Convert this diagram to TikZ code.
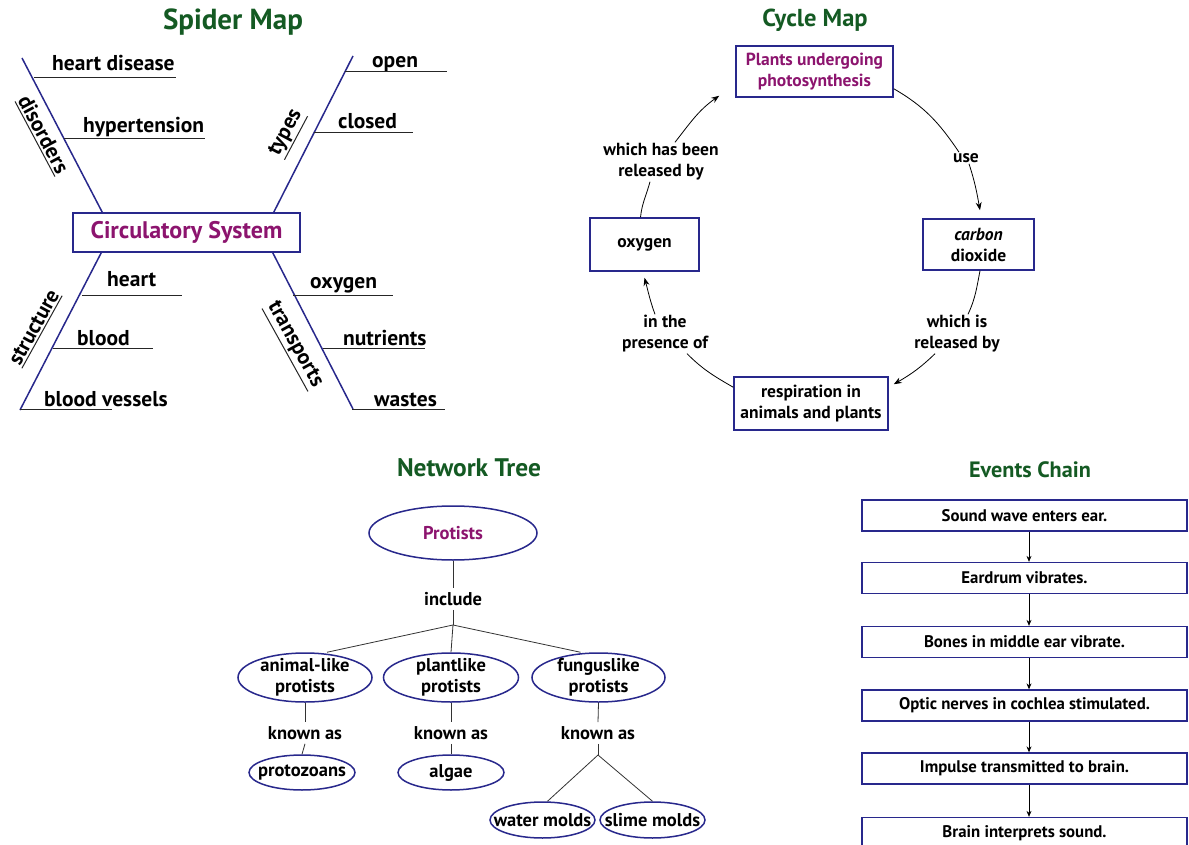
\documentclass[tikz,border=0pt]{standalone}
\usepackage{fontspec}
\setmainfont{PT Sans}
\usetikzlibrary{shapes.geometric,arrows.meta}
\definecolor{navy}{RGB}{40,40,140}
\definecolor{tgreen}{RGB}{20,90,35}
\definecolor{purp}{RGB}{140,20,110}
\begin{document}
\begin{tikzpicture}[x=1pt,y=-1pt,
 ttl/.style={font=\fontsize{25}{29}\selectfont\bfseries,text=tgreen},
 sp/.style={font=\fontsize{21.5}{25}\selectfont\bfseries,inner sep=0pt},
 rl/.style={font=\fontsize{21.5}{25}\selectfont\bfseries,inner xsep=0pt,inner ysep=2pt},
 bbox/.style={draw=navy,line width=1.5pt},
 spoke/.style={navy,line width=1.5pt},
 uline/.style={black!85,line width=1pt},
 cyc/.style={font=\fontsize{17.5}{21}\selectfont\bfseries,align=center,inner sep=1pt},
 cbox/.style={bbox,align=center,inner sep=0pt,font=\fontsize{17.5}{21}\selectfont\bfseries},
 conn/.style={black,line width=0.8pt},
 arr/.style={conn,-{Stealth[length=8pt,width=6pt]}},
 ell/.style={ellipse,draw=navy,line width=1.5pt,inner sep=0pt},
 lbl/.style={font=\fontsize{18.5}{21.5}\selectfont\bfseries,align=center,inner sep=0pt},
 tt/.style={font=\fontsize{18.5}{21.5}\selectfont\bfseries,inner sep=4pt},
 tline/.style={black!80,line width=0.8pt},
 evbox/.style={bbox,line width=1.3pt,minimum width=325pt,minimum height=31pt,inner sep=0pt,font=\fontsize{16.8}{19}\selectfont\bfseries},
 earr/.style={black,line width=0.9pt,-{Stealth[length=6pt,width=5pt]}}]
\useasboundingbox (0,0) rectangle (1189,845);
\fill[white] (0,0) rectangle (1189,845);
% ---------- Spider map ----------
\node[ttl,font=\fontsize{29}{33}\selectfont\bfseries] (t1) at (233,22) {Spider Map};
\node[bbox,minimum width=227pt,minimum height=39pt,inner sep=0pt,font=\fontsize{24}{28}\selectfont\bfseries,text=purp] (circ) at (186.5,232.5) {Circulatory System};
\coordinate (ul) at (22,58);
\coordinate (ur) at (353,56);
\coordinate (ll) at (20,410);
\coordinate (lr) at (353,409);
\draw[spoke] (ul) -- ([xshift=30pt]circ.north west);
\draw[spoke] (ur) -- ([xshift=-27pt]circ.north east);
\draw[spoke] (ll) -- ([xshift=29pt]circ.south west);
\draw[spoke] (lr) -- ([xshift=-28pt]circ.south east);
\node[sp,anchor=base west] (hd) at (52,71) {heart disease};
\draw[uline] (34,78) -- (176,78);
\node[sp,anchor=base west] (hy) at (83,133) {hypertension};
\draw[uline] (64,139) -- (205,139);
\node[sp,anchor=base west] (op) at (372,68) {open};
\draw[uline] (345,72) -- (447,72);
\node[sp,anchor=base west] (cl) at (338,129) {closed};
\draw[uline] (314,133) -- (413,133);
\node[sp,anchor=base west] (he) at (107,287) {heart};
\draw[uline] (82,295) -- (182,295);
\node[sp,anchor=base west] (bl) at (77,345) {blood};
\draw[uline] (53,348) -- (153,348);
\node[sp,anchor=base west] (bv) at (44,406) {blood vessels};
\draw[uline] (20,409) -- (112,409);
\node[sp,anchor=base west] (ox) at (310,288) {oxygen};
\draw[uline] (293,295) -- (393,295);
\node[sp,anchor=base west] (nu) at (343,345) {nutrients};
\draw[uline] (323,348) -- (425,348);
\node[sp,anchor=base west] (wa) at (374,406) {wastes};
\draw[uline] (352,409) -- (445,409);
\node[rl,rotate=-62,anchor=south] (dis) at (35,139) {disorders};
\draw[uline] (dis.south west) -- (dis.south east);
\node[rl,rotate=62,anchor=south] (ty) at (296,138) {types};
\draw[uline] (ty.south west) -- (ty.south east);
\node[rl,rotate=61,anchor=south] (st) at (42,332) {structure};
\draw[uline] (st.south west) -- (st.south east);
\node[rl,rotate=-61,anchor=south] (tr) at (285,350) {transports};
\draw[uline] (tr.south west) -- (tr.south east);
% ---------- Cycle map ----------
\node[ttl,font=\fontsize{24.5}{28}\selectfont\bfseries] (t2) at (815,20) {Cycle Map};
\node[cbox,text=purp,minimum width=157pt,minimum height=51pt] (top) at (814.5,71.5) {Plants undergoing\\photosynthesis};
\node[cbox,minimum width=111pt,minimum height=51pt] (co2) at (978.5,244.5) {\textit{carbon}\\dioxide};
\node[cbox,minimum width=109pt,minimum height=53pt] (oxy) at (644.5,244.5) {oxygen};
\node[cbox,minimum width=154pt,minimum height=53pt] (resp) at (811,403.5) {respiration in\\animals and plants};
\node[cyc] (use) at (966,158) {use};
\node[cyc] (wir) at (957,334) {which is\\released by};
\node[cyc] (ip) at (665,334) {in the\\presence of};
\node[cyc] (whb) at (661,162) {which has been\\released by};
\draw[conn] ([yshift=9pt]top.south east) to[out=-30,in=124] ([xshift=-7pt]use.north);
\draw[arr] ([xshift=3pt]use.south) to[out=-72,in=100] ([xshift=1.5pt,yshift=8pt]co2.north);
\draw[conn] ([xshift=1.5pt]co2.south) to[out=-101,in=65] ([xshift=11pt]wir.north);
\draw[arr] ([xshift=-22pt]wir.south) to[out=-136,in=30] ([xshift=5pt,yshift=-8pt]resp.north east);
\draw[conn] ([yshift=-11pt]resp.north west) to[out=150,in=-45] ([xshift=22pt]ip.south);
\draw[arr] ([xshift=-10pt]ip.north) to[out=110,in=-75] ([yshift=-6pt]oxy.south);
\draw[conn] ([xshift=-4pt]oxy.north) to[out=84,in=-105] ([xshift=-11pt]whb.south);
\draw[arr] ([xshift=14pt]whb.north) to[out=52,in=-145] ([xshift=-16pt,yshift=2pt]top.south west);
% ---------- Network tree ----------
\node[ttl,font=\fontsize{25.4}{29}\selectfont\bfseries] (t3) at (469,468) {Network Tree};
\node[ell,minimum width=168pt,minimum height=54pt,label={[lbl,text=purp]center:Protists}] (prot) at (453,533) {};
\node[tt] (incl) at (453,599) {include};
\coordinate (j1) at (453,625);
\draw[tline] (prot.south) -- (incl.north);
\draw[tline] (incl.south) -- (j1);
\node[ell,minimum width=134pt,minimum height=49pt,label={[lbl]center:{animal-like\\protists}}] (ani) at (305,677.5) {};
\node[ell,minimum width=135pt,minimum height=49pt,label={[lbl]center:{plantlike\\protists}}] (pla) at (451,677.5) {};
\node[ell,minimum width=133pt,minimum height=49pt,label={[lbl]center:{funguslike\\protists}}] (fun) at (598.5,677.5) {};
\draw[tline] (j1) -- ([xshift=22pt]ani.north);
\draw[tline] (j1) -- (pla.north);
\draw[tline] (j1) -- ([xshift=-18pt]fun.north);
\node[tt] (k1) at (305,733) {known as};
\node[tt] (k2) at (451,733) {known as};
\node[tt] (k3) at (598,733) {known as};
\draw[tline] (ani.south) -- (k1.north);
\draw[tline] (pla.south) -- (k2.north);
\draw[tline] (fun.south) -- (k3.north);
\node[ell,minimum width=106pt,minimum height=35pt,label={[lbl]center:protozoans}] (pz) at (302,772.5) {};
\node[ell,minimum width=106pt,minimum height=35pt,label={[lbl]center:algae}] (al) at (451,772.5) {};
\node[ell,minimum width=105pt,minimum height=36pt,label={[lbl]center:water molds}] (wm) at (542.5,820) {};
\node[ell,minimum width=105pt,minimum height=36pt,label={[lbl]center:slime molds}] (sm) at (652.5,820) {};
\draw[tline] (k1.south) -- (pz.north);
\draw[tline] (k2.south) -- (al.north);
\coordinate (j2) at (598,755);
\draw[tline] (k3.south) -- (j2);
\draw[tline] (j2) -- ([xshift=5pt]wm.north);
\draw[tline] (j2) -- (sm.north);
% ---------- Events chain ----------
\node[ttl,font=\fontsize{22.2}{26}\selectfont\bfseries] (t4) at (1030,470) {Events Chain};
\node[evbox] (e1) at (1024.5,515.5) {Sound wave enters ear.};
\node[evbox] (e2) at (1024.5,578) {Eardrum vibrates.};
\node[evbox] (e3) at (1024.5,642) {Bones in middle ear vibrate.};
\node[evbox] (e4) at (1024.5,705.5) {Optic nerves in cochlea stimulated.};
\node[evbox] (e5) at (1024.5,768.5) {Impulse transmitted to brain.};
\node[evbox] (e6) at (1024.5,833) {Brain interprets sound.};
\draw[earr] ([xshift=4.5pt]e1.south) -- ([xshift=4.5pt]e2.north);
\draw[earr] ([xshift=4.5pt]e2.south) -- ([xshift=4.5pt]e3.north);
\draw[earr] ([xshift=4.5pt]e3.south) -- ([xshift=4.5pt]e4.north);
\draw[earr] ([xshift=4.5pt]e4.south) -- ([xshift=4.5pt]e5.north);
\draw[earr] ([xshift=4.5pt]e5.south) -- ([xshift=4.5pt]e6.north);
\end{tikzpicture}
\end{document}
